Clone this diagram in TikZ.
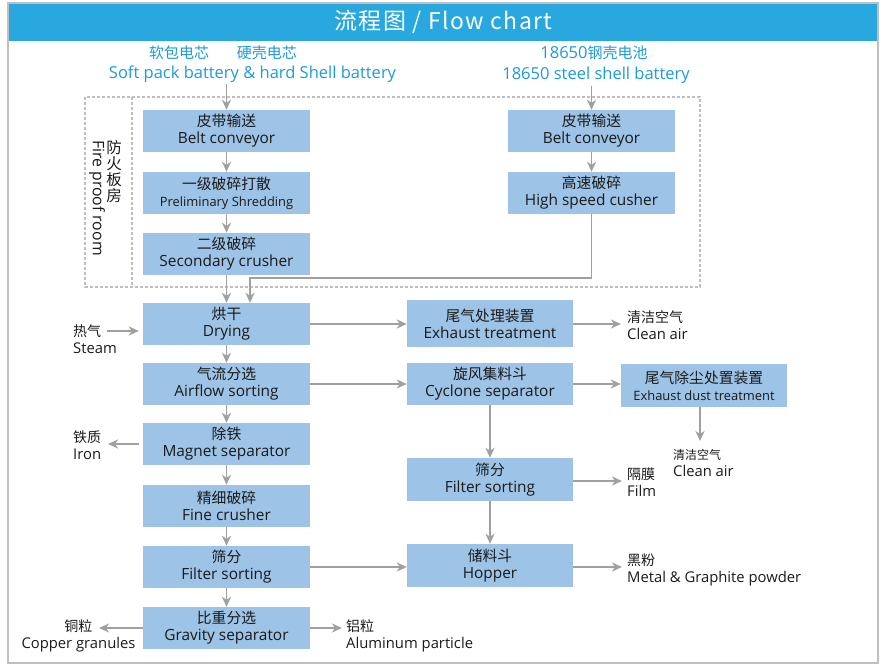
\documentclass[tikz,border=0pt]{standalone}
\usepackage{fontspec}
\setmainfont{Open Sans}
\newfontfamily\cjk{Noto Sans CJK SC}
\usetikzlibrary{arrows.meta}
\definecolor{titleblue}{HTML}{29A8E0}
\definecolor{lblblue}{HTML}{1E9AD8}
\definecolor{boxblue}{HTML}{9DC3E6}
\definecolor{arrgray}{HTML}{A0A0A0}
\definecolor{framegray}{HTML}{BFBFBF}
\definecolor{txt}{HTML}{1A1A1A}
\newcommand\zh[2][14.8]{{\cjk\fontsize{#1}{17}\selectfont #2}}
\begin{document}
\begin{tikzpicture}[x=1pt,y=-1pt,
 box/.style={rectangle, fill=boxblue, minimum width=167pt, minimum height=42pt, inner sep=0pt, align=center, text=txt, font=\fontsize{15.4}{17}\selectfont},
 smallbox/.style={box, font=\fontsize{12.9}{17}\selectfont},
 lbl/.style={inner sep=0pt, align=left, text=txt, font=\fontsize{14.8}{17}\selectfont},
 src/.style={inner sep=0pt, text=lblblue, font=\fontsize{16.5}{17}\selectfont},
 arr/.style={draw=arrgray, line width=1.6pt, -{Stealth[length=10pt,width=9pt,inset=3pt]}},
 ln/.style={draw=arrgray, line width=1.6pt},
 fire/.style={draw=framegray, line width=1.1pt, dash pattern=on 3pt off 2pt},
]
\useasboundingbox (0,0) rectangle (887,668);
% frame and title
\fill[titleblue] (8,3) rectangle (878,41);
\draw[framegray, line width=1.2pt] (8,3) rectangle (878,663);
\node[text=white, inner sep=0pt, font=\cjk\fontsize{23}{26}\selectfont\addfontfeature{LetterSpace=6}] (title) at (443.5,22) {流程图 / Flow chart};

% sources
\node[src] (src1zh) at (223,53) {\zh[15]{软包电芯\hspace{28pt}硬壳电芯}};
\node[src] (src1en) at (252.5,74) {Soft pack battery \& hard Shell battery};
\node[src] (src2zh) at (594,53) {18650\zh[15]{钢壳电池}};
\node[src] (src2en) at (596,75) {18650 steel shell battery};
\coordinate (s1) at (226.5,84);
\coordinate (s2) at (591.5,86);

% fire proof room
\draw[fire] (85,97) rectangle (700,287);
\draw[fire] (132,97) -- (132,287);
\node[inner sep=0pt, align=center, text=txt, font=\cjk\fontsize{15.5}{15.75}\selectfont] (firezh) at (114,171.5) {防\\火\\板\\房};
\node[rotate=-90, anchor=west, inner sep=0pt, text=txt, font=\fontsize{15.8}{17}\selectfont] (fireen) at (97,140) {Fire proof room};

% boxes
\node[box] (b1) at (226.5,131) {\zh{皮带输送}\\Belt conveyor};
\node[smallbox] (b2) at (226.5,193) {\zh{一级破碎打散}\\Preliminary Shredding};
\node[box] (b3) at (226.5,254) {\zh{二级破碎}\\Secondary crusher};
\node[box] (r1) at (591.5,131) {\zh{皮带输送}\\Belt conveyor};
\node[box] (r2) at (591.5,193) {\zh{高速破碎}\\High speed cusher};

\node[box] (drying) at (226.5,324) {\zh{烘干}\\Drying};
\node[box] (airflow) at (226.5,384) {\zh{气流分选}\\Airflow sorting};
\node[box] (magnet) at (226.5,444) {\zh{除铁}\\Magnet separator};
\node[box] (fine) at (226.5,506) {\zh{精细破碎}\\Fine crusher};
\node[box] (filterL) at (226.5,567) {\zh{筛分}\\Filter sorting};
\node[box] (gravity) at (226.5,628) {\zh{比重分选}\\Gravity separator};

\node[box, minimum width=166pt, minimum height=47pt] (exhaust) at (490,324) {\zh{尾气处理装置}\\Exhaust treatment};
\node[box, minimum width=166pt] (cyclone) at (490,384) {\zh{旋风集料斗}\\Cyclone separator};
\node[box, minimum width=166pt, minimum height=43pt] (filterR) at (490,479.5) {\zh{筛分}\\Filter sorting};
\node[box, minimum width=166pt, minimum height=43pt] (hopper) at (490,565.5) {\zh{储料斗}\\Hopper};
\node[smallbox, minimum width=166pt, minimum height=43pt] (dust) at (704,385.5) {\zh{尾气除尘处置装置}\\Exhaust dust treatment};

% side labels
\node[lbl, anchor=west] (steam) at (73,339) {\zh[14]{热气}\\Steam};
\node[lbl, anchor=west] (iron) at (73,445) {\zh[14]{铁质}\\Iron};
\node[lbl, anchor=west] (clean1) at (627,325) {\zh[14]{清洁空气}\\Clean air};
\node[lbl, anchor=west] (clean2) at (673,463) {\zh[12]{清洁空气}\\Clean air};
\node[lbl, anchor=west] (film) at (627,482) {\zh[14]{隔膜}\\Film};
\node[lbl, anchor=west] (powder) at (627,570) {\zh[14]{黑粉}\\Metal \& Graphite powder};
\node[lbl, align=center] (copper) at (78.5,635.5) {\zh[14]{铜粒}\\Copper granules};
\node[lbl, anchor=west] (alu) at (346,635.5) {\zh[14]{铝粒}\\Aluminum particle};

% free ends
\coordinate (steamA) at (107,331);
\coordinate (ironA) at (108,444);
\coordinate (cuA) at (99,628);
\coordinate (alA) at (342,628);
\coordinate (c1A) at (621,324);
\coordinate (c2A) at (700,441);
\coordinate (filmA) at (622,481);
\coordinate (powA) at (622,567);
\coordinate (j1) at (250,278);

% connectors
\draw[arr] (s1) -- (b1);
\draw[arr] (s2) -- (r1);
\draw[arr] (b1) -- (b2);
\draw[arr] (b2) -- (b3);
\draw[arr] (r1) -- (r2);
\draw[arr] (b3) -- (drying);
\draw[arr] (r2.south) |- (j1) -- (j1 |- drying.north);
\draw[arr] (drying) -- (airflow);
\draw[arr] (airflow) -- (magnet);
\draw[arr] (magnet) -- (fine);
\draw[arr] (fine) -- (filterL);
\draw[arr] (filterL) -- (gravity);
\draw[arr, shorten >=4pt] (steamA) -- (steamA -| drying.west);
\draw[arr, shorten <=4pt] (magnet.west) -- (ironA);
\draw[arr] (gravity.west) -- (cuA);
\draw[arr] (gravity.east) -- (alA);
\draw[arr] (drying.east) -- (exhaust.west);
\draw[arr] (airflow.east) -- (airflow.east -| cyclone.west);
\draw[arr] (filterL.east) -- (filterL.east -| hopper.west);
\draw[arr] (exhaust.east) -- (c1A);
\draw[arr] (cyclone.east) -- (cyclone.east -| dust.west);
\draw[arr] (c2A |- dust.south) -- (c2A);
\draw[arr] (cyclone) -- (filterR);
\draw[arr] (filterR) -- (hopper);
\draw[arr] (filterR.east |- filmA) -- (filmA);
\draw[arr] (hopper.east |- powA) -- (powA);
\end{tikzpicture}
\end{document}
